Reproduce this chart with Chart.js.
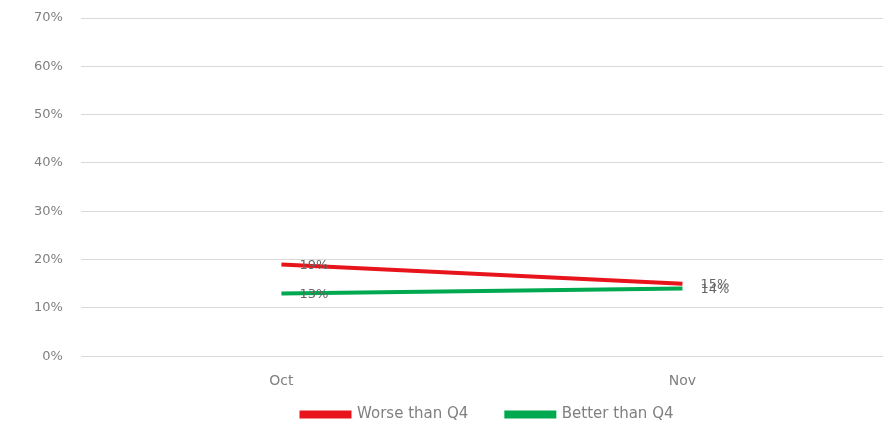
<!DOCTYPE html>
<html>
<head>
<meta charset="utf-8">
<script src="https://cdn.jsdelivr.net/npm/chart.js@4/dist/chart.umd.min.js"></script>
<style>
html,body{margin:0;padding:0;background:#fff;}
#wrap{width:883px;height:427px;position:relative;}
</style>
</head>
<body>
<div id="wrap"><canvas id="c" width="883" height="427"></canvas></div>
<script>
const categories = ["Oct", "Nov"];
const worseValues = [19, 15];
const betterValues = [13, 14];
const seriesNames = ["Worse than Q4", "Better than Q4"];
const yTicks = [0, 10, 20, 30, 40, 50, 60, 70];

const textColor = "#808080";
const labelFont = "'DejaVu Sans', sans-serif";
const LEGEND_GAP = 38;                     // horizontal gap between legend items
const LEGEND_FIT_CUT = LEGEND_GAP + 5;     // remove the row's top padding from layout
const LEGEND_DRAW_SHIFT = LEGEND_GAP;      // draw the row inside its box
const LEGEND_X_SHIFT = 38;                 // centre legend under the plot area

const dataLabelPlugin = {
  id: "dataLabels",
  afterDatasetsDraw(chart) {
    const ctx = chart.ctx;
    ctx.save();
    ctx.font = "13px " + labelFont;
    ctx.fillStyle = "#666666";
    ctx.textAlign = "left";
    ctx.textBaseline = "middle";
    chart.data.datasets.forEach((ds, i) => {
      const meta = chart.getDatasetMeta(i);
      meta.data.forEach((pt, j) => {
        ctx.fillText(ds.data[j] + "%", pt.x + 18, pt.y + 1);
      });
    });
    ctx.restore();
  }
};

const legendFitPlugin = {
  id: "legendFit",
  beforeUpdate(chart) {
    const lg = chart.legend;
    if (lg && !lg._patched) {
      const fit = lg.fit;
      lg.fit = function () {
        fit.call(this);
        this.height -= LEGEND_FIT_CUT;
      };
      lg._patched = true;
    }
  },
  afterLayout(chart) {
    const lg = chart.legend;
    if (lg) {
      lg.top -= LEGEND_DRAW_SHIFT;
      lg.left += LEGEND_X_SHIFT;
      lg.right += LEGEND_X_SHIFT;
    }
  }
};

new Chart(document.getElementById("c"), {
  type: "line",
  data: {
    labels: categories,
    datasets: [
      { label: seriesNames[0], data: worseValues, borderColor: "#E8141B", backgroundColor: "#E8141B", borderWidth: 4, pointRadius: 0, tension: 0 },
      { label: seriesNames[1], data: betterValues, borderColor: "#00A850", backgroundColor: "#00A850", borderWidth: 4, pointRadius: 0, tension: 0 }
    ]
  },
  options: {
    responsive: false,
    animation: false,
    layout: { padding: { left: 16, right: 0, top: 0, bottom: 0 } },
    plugins: {
      legend: {
        position: "bottom",
        labels: {
          color: textColor,
          font: { family: labelFont, size: 15 },
          boxWidth: 48,
          boxHeight: 4,
          padding: LEGEND_GAP
        }
      },
      tooltip: { enabled: false }
    },
    scales: {
      x: {
        offset: true,
        grid: { display: false, drawTicks: false },
        border: { display: false },
        ticks: { color: textColor, font: { family: labelFont, size: 14 }, padding: 17 }
      },
      y: {
        min: 0,
        max: 70,
        afterBuildTicks(scale) { scale.ticks = yTicks.map(v => ({ value: v })); },
        afterFit(scale) { scale.paddingTop = 18; },
        grid: { color: "#d9d9d9", lineWidth: 1, drawTicks: false },
        border: { display: false },
        ticks: { color: textColor, font: { family: labelFont, size: 13 }, padding: 18, callback: v => v + "%" }
      }
    }
  },
  plugins: [dataLabelPlugin, legendFitPlugin]
});
</script>
</body>
</html>
